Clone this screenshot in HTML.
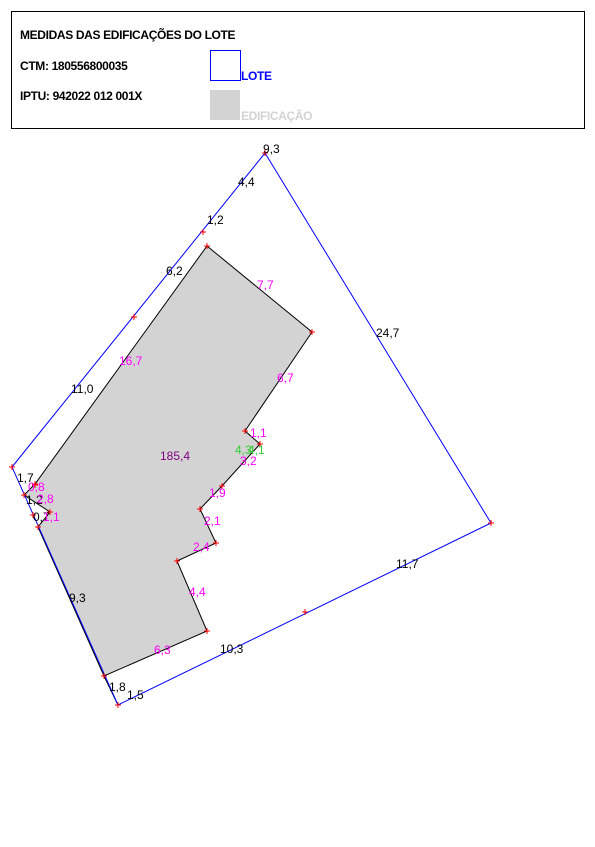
<!DOCTYPE html>
<html><head><meta charset="utf-8"><style>
body{margin:0;background:#fff;width:595px;height:842px;overflow:hidden;font-family:"Liberation Sans",Arial,sans-serif}
svg text{font-family:"Liberation Sans",Arial,sans-serif}
</style></head><body>
<svg id="plan" width="595" height="842" viewBox="0 0 595 842" xmlns="http://www.w3.org/2000/svg">
<g>
<rect x="11.5" y="11.5" width="573" height="117" fill="#fff" stroke="#000" stroke-width="1"/>
<text x="20" y="39" font-size="12" font-weight="bold" letter-spacing="-0.35">MEDIDAS DAS EDIFICAÇÕES DO LOTE</text>
<text x="20" y="70" font-size="12" font-weight="bold" letter-spacing="-0.35">CTM: 180556800035</text>
<text x="20" y="100" font-size="12" font-weight="bold" letter-spacing="-0.35">IPTU: 942022 012 001X</text>
<rect x="210.5" y="50.5" width="30" height="30" fill="#fff" stroke="#0000ff"/>
<text x="241" y="80" font-size="12" font-weight="bold" fill="#0000ff" letter-spacing="-0.35">LOTE</text>
<rect x="210" y="90" width="30" height="30" fill="#d3d3d3"/>
<text x="241" y="120" font-size="12" font-weight="bold" fill="#d3d3d3" letter-spacing="-0.35">EDIFICAÇÃO</text>
</g>
<g id="marks"></g>
</svg>
<script>
const lotX=[265,491,118,12];
const lotY=[153,523,705,467];
const bldX=[207,312,245,260,222,200,216,177,207,104,38,50,24,35];
const bldY=[246,332,431,444,486,509,543,561,631,676,527,512,495,484];
const extraPtX=[305,134,203,35,33,265];
const extraPtY=[612,317,232,485,515,153];
const labelText=["9,3","4,4","1,2","6,2","7,7","24,7","16,7","11,0","6,7","185,4","1,1","4,3","4,1","3,2","1,9","2,1","2,4","4,4","11,7","9,3","6,3","10,3","1,8","1,5","1,7","0,8","1,2","2,8","0,7","1,1"];
const labelX=[263,238,207,166,257,376,119,71,277,160,250,235,248,240,209,204,193,189,396,69,154,220,109,127,17,28,26,37,33,43];
const labelY=[153,186,224,275,289,337,365,393,382,460,437,454,454,465,497,525,551,596,568,602,654,653,691,699,482,491,504,503,521,521];
const labelColor=["#000","#000","#000","#000","#f0f","#000","#f0f","#000","#f0f","#800080","#f0f","#3c3","#3c3","#f0f","#f0f","#f0f","#f0f","#f0f","#000","#000","#f0f","#000","#000","#000","#000","#f0f","#000","#f0f","#000","#f0f"];
const NS="http://www.w3.org/2000/svg";
const g=document.getElementById('marks');
function pts(xs,ys){return xs.map((x,i)=>x+','+ys[i]).join(' ');}
const b=document.createElementNS(NS,'polygon');


b.setAttribute('points',pts(bldX,bldY));
b.setAttribute('fill','#d3d3d3');b.setAttribute('stroke','#000');b.setAttribute('stroke-width','1');
g.appendChild(b);
const seg=document.createElementNS(NS,'line');


seg.setAttribute('x1',bldX[9]);seg.setAttribute('y1',bldY[9]);seg.setAttribute('x2',lotX[2]);seg.setAttribute('y2',lotY[2]);
seg.setAttribute('stroke','#000');
g.appendChild(seg);
const l=document.createElementNS(NS,'polygon');


l.setAttribute('points',pts(lotX,lotY));
l.setAttribute('fill','none');l.setAttribute('stroke','#0000ff');l.setAttribute('stroke-width','1');
g.appendChild(l);
function marker(x,y){
 const p=document.createElementNS(NS,'path');
 
 
 p.setAttribute('d',`M${x-3} ${y}h6M${x} ${y-3}v6`);
 p.setAttribute('stroke','#f00');p.setAttribute('stroke-width','1');
 g.appendChild(p);
}
lotX.forEach((x,i)=>marker(x,lotY[i]));
bldX.forEach((x,i)=>marker(x,bldY[i]));
extraPtX.forEach((x,i)=>marker(x,extraPtY[i]));
labelText.forEach((t,i)=>{
 const e=document.createElementNS(NS,'text');
 
 
 e.setAttribute('x',labelX[i]);e.setAttribute('y',labelY[i]);
 e.setAttribute('font-size','12');e.setAttribute('fill',labelColor[i]);
 e.textContent=t;g.appendChild(e);
});
</script>
</body></html>
